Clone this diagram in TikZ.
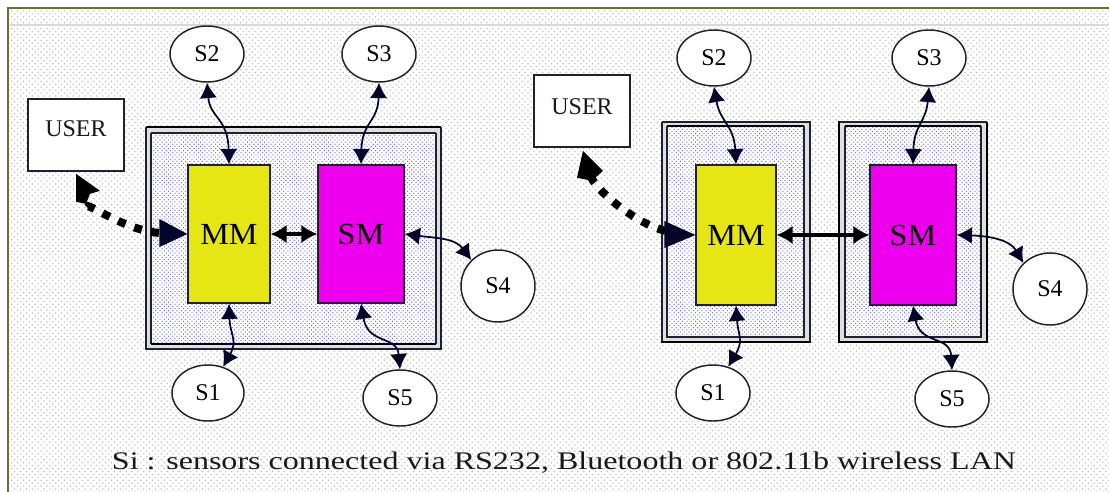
\documentclass[tikz,border=0pt]{standalone}
\usepackage{fontspec}
\setmainfont{Liberation Serif}
\newfontfamily\wideserif[FakeStretch=1.265]{Liberation Serif}
\newfontfamily\modserif[FakeStretch=1.05]{Liberation Serif}
\usetikzlibrary{patterns.meta,arrows.meta,shapes.geometric}
\definecolor{frameolive}{HTML}{6B6B3C}
\definecolor{inkline}{HTML}{202030}
\definecolor{tipink}{HTML}{05052A}
\definecolor{mmyellow}{HTML}{E6E614}
\definecolor{smmag}{HTML}{EE00EE}
\tikzset{
  x=0.75pt,y=-0.75pt,
  sensor/.style={ellipse,draw=inkline,line width=1.1pt,fill=white,inner sep=0pt,minimum width=#1*0.75pt,font=\fontsize{18}{20}\selectfont},
  userbox/.style={rectangle,draw=inkline,line width=1.2pt,fill=white,minimum width=72pt,minimum height=54pt,inner sep=0pt},
  usertext/.style={font=\fontsize{18}{20}\selectfont,text=black!90},
  modbox/.style={rectangle,draw=inkline,line width=0.9pt,inner sep=0pt,font=\modserif\fontsize{23}{26}\selectfont},
  link/.style={draw=tipink,line width=1.3pt,{Latex[length=11.5pt,width=13pt]}-{Latex[length=11.5pt,width=13pt]}},
  boldlink/.style={draw=black,line width=3pt,{Latex[length=12pt,width=14pt]}-{Latex[length=12pt,width=14pt]}},
  userlink/.style={draw=black,line width=6pt,dash pattern=on 6pt off 7pt},
  bigtip/.style={fill=tipink,draw=none},
  thinrule/.style={inkline,line width=1.1pt},
  thickrule/.style={black,line width=2.2pt},
}
\begin{document}
\begin{tikzpicture}
\useasboundingbox (0,0) rectangle (1109,492);
\fill[white] (0,0) rectangle (1109,492);
\fill[pattern={Dots[distance=4.4pt,radius=0.62pt]},pattern color=gray!50] (8,8) rectangle (1109,492);
\fill[pattern={Dots[distance=4.4pt,radius=0.62pt,xshift=2.2pt,yshift=2.2pt]},pattern color=gray!50] (8,8) rectangle (1109,492);
\fill[gray!30] (10,24) rectangle (1109,26);
\draw[frameolive,line width=1.8pt] (8,492) -- (8,8) -- (1109,8);
% containers
\foreach \xa/\ya/\xb/\yb in {146/127/441/349,662/122/810/342,840/122/987/342}{
  \fill[gray!25] (\xa,\ya) rectangle (\xb,\yb);
  \fill[white] (\xa+5,\ya+5) rectangle (\xb-5,\yb-5);
  \fill[pattern={Dots[distance=3.2pt,radius=0.5pt]},pattern color=blue!60] (\xa+5,\ya+5) rectangle (\xb-5,\yb-5);
  \fill[pattern={Dots[distance=3.2pt,radius=0.5pt,xshift=1.6pt,yshift=1.6pt]},pattern color=blue!60] (\xa+5,\ya+5) rectangle (\xb-5,\yb-5);
}
% container 1 rules
\draw[thickrule] (146,127) -- (441,127);
\draw[thinrule] (151,133) -- (436,133);
\draw[thinrule] (146,127) -- (146,349) -- (441,349) -- (441,127);
\draw[thinrule] (151,133) -- (151,344);
\draw[thinrule] (436,133) -- (436,344);
\draw[thickrule] (151,344) -- (436,344);
% container 2 rules
\draw[thinrule] (662,122) -- (810,122) -- (810,342);
\draw[thinrule] (662,122) -- (662,342);
\draw[thickrule] (667,126) -- (804,126);
\draw[thinrule] (667,126) -- (667,337) -- (804,337) -- (804,126);
\draw[thickrule] (661,342) -- (811,342);
% container 3 rules
\draw[thinrule] (840,122) -- (987,122);
\draw[thickrule] (839,121) -- (839,343);
\draw[thinrule] (845,126) -- (845,337) -- (981,337) -- (981,126);
\draw[thickrule] (845,126) -- (981,126);
\draw[thickrule] (839,342) -- (987,342) -- (987,122);
% left group
\node[userbox,label={[usertext,yshift=4.5pt]center:USER}] (userA) at (76,135) {};
\node[modbox,fill=mmyellow,minimum width=61.5pt,minimum height=103.5pt] (mmA) at (229,234) {MM};
\node[modbox,fill=smmag,minimum width=64.5pt,minimum height=103.5pt] (smA) at (361,234) {SM};
\node[sensor=74,minimum height=42pt] (s2A) at (207,54) {S2};
\node[sensor=74,minimum height=42pt] (s3A) at (379,54) {S3};
\node[sensor=74,minimum height=54pt] (s4A) at (498,286) {S4};
\node[sensor=74,minimum height=42pt] (s5A) at (400,398) {S5};
\node[sensor=72,minimum height=42pt] (s1A) at (208,393) {S1};
% right group
\node[userbox,label={[usertext,yshift=3pt]center:USER}] (userB) at (582,111) {};
\node[modbox,fill=mmyellow,minimum width=60pt,minimum height=105pt] (mmB) at (736,235) {MM};
\node[modbox,fill=smmag,minimum width=64.5pt,minimum height=105pt] (smB) at (913,235) {SM};
\node[sensor=74,minimum height=42pt] (s2B) at (714,58) {S2};
\node[sensor=74,minimum height=42pt] (s3B) at (929,58) {S3};
\node[sensor=74,minimum height=54pt] (s4B) at (1050,289) {S4};
\node[sensor=74,minimum height=42pt] (s5B) at (952,399) {S5};
\node[sensor=74,minimum height=42pt] (s1B) at (713,393) {S1};
% sensor links, left
\draw[link] (s2A.south) .. controls (210,118) and (228,118) .. (mmA.north);
\draw[link] (s3A.south) .. controls (378,122) and (362,122) .. (smA.north);
\draw[link] (mmA.south) .. controls (230,335) and (238,340) .. (s1A.60);
\draw[link] (smA.south) .. controls (368,345) and (397,335) .. (s5A.north);
\draw[link] (smA.east) .. controls (435,238) and (455,238) .. (s4A.north west);
\draw[boldlink] (mmA.east) -- (smA.west);
% sensor links, right
\draw[link] (s2B.south) .. controls (720,122) and (734,125) .. (mmB.north);
\draw[link] (s3B.south) .. controls (926,122) and (914,125) .. (smB.north);
\draw[link] (mmB.south) .. controls (738,335) and (744,340) .. (s1B.60);
\draw[link] (smB.south) .. controls (920,345) and (950,335) .. (s5B.north);
\draw[link] (smB.east) .. controls (990,236) and (1010,240) .. (s4B.north west);
\draw[boldlink] (mmB.east) -- (smB.west);
% user links
\draw[userlink,shorten >=18pt,shorten <=28pt] (userA.south) .. controls (85,200) and (125,232) .. (mmA.west);
\draw[userlink,shorten >=18pt,shorten <=22pt] (userB.south) .. controls (595,190) and (640,228) .. (mmB.west);
\fill[bigtip] (mmA.west) -- ++(-28,-15) -- ++(0,28) -- cycle;
\fill[bigtip] (mmB.west) -- ++(-31,-14) -- ++(0,27) -- cycle;
\path (userA.south) ++(0,2) coordinate (ua);
\fill[black] (ua) -- ++(24,17) -- ++(-10,3) -- ++(-4,10) -- ++(-10,-2) -- cycle;
\path (userB.south) ++(1,3) coordinate (ub);
\fill[black] (ub) -- ++(20,20) -- ++(-11,10) -- ++(-15,-3) -- cycle;
\node[font=\wideserif\fontsize{19}{21}\selectfont,text=black!90] (caption) at (564,463) {Si : sensors connected via RS232, Bluetooth or 802.11b wireless LAN};
\end{tikzpicture}
\end{document}
